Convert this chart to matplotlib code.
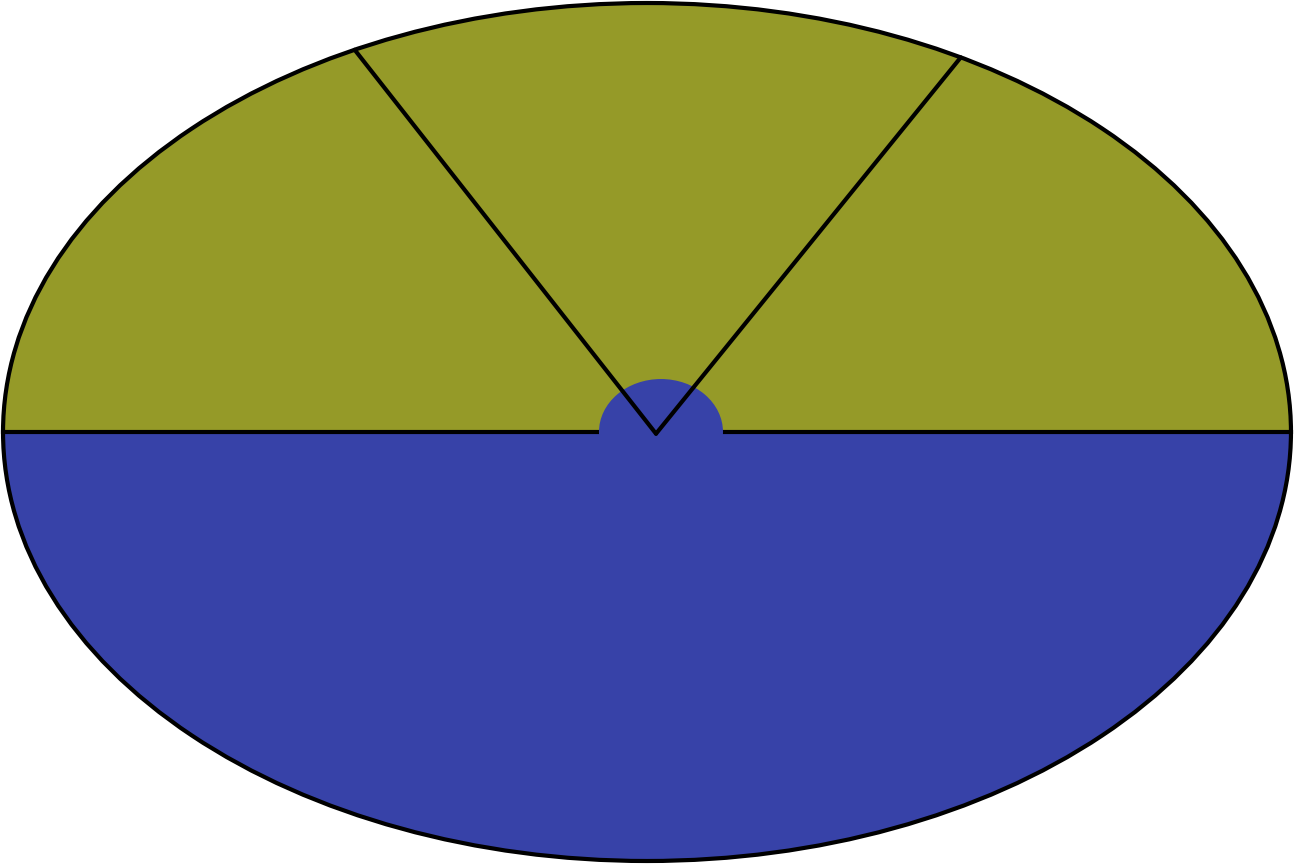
import matplotlib
matplotlib.use("Agg")
import matplotlib.pyplot as plt
from matplotlib.patches import Ellipse
import numpy as np

# slice shares (percent), counter-clockwise from 3 o'clock
labels = ["A", "B", "C", "D"]
shares = [16.9, 15.6, 17.5, 50.0]
colors = ["#959a28", "#959a28", "#959a28", "#3742a8"]

fig = plt.figure(figsize=(12.94, 8.64), dpi=100)
ax = fig.add_axes([0, 0, 1, 1])

wedges, _ = ax.pie(shares, colors=colors, startangle=0, counterclock=True,
                   wedgeprops=dict(linewidth=1))
for w, c in zip(wedges, colors):
    w.set_edgecolor(c)  # hide the seams between same-coloured slices
ax.set_aspect("auto")
ax.set_xlim(-1.0047, 1.0047)
ax.set_ylim(-1.007, 1.007)
ax.axis("off")

# outline and the horizontal split
ax.add_patch(Ellipse((0, 0), 2, 2, facecolor="none", edgecolor="black", lw=3.0, zorder=4))
ax.plot([-1, 1], [0, 0], color="black", lw=3.0, zorder=4)

# small blue cap over the centre, covering the horizontal line
ax.add_patch(Ellipse((0.0217, 0), 2 * 0.0963, 2 * 0.1235,
                     facecolor="#3742a8", edgecolor="none", zorder=5))

# radial separators between the upper slices
cum = np.cumsum(shares)[:2] / 100 * 2 * np.pi
for a in cum:
    ax.plot([0.014, np.cos(a)], [-0.004, np.sin(a)], color="black", lw=3.0,
            solid_capstyle="round", zorder=6)

fig.savefig("out.png", dpi=100)
